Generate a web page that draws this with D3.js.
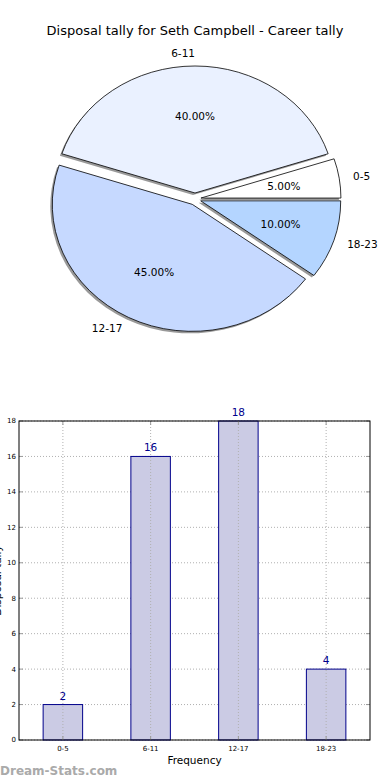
<!DOCTYPE html>
<html>
<head>
<meta charset="utf-8">
<script src="https://cdn.jsdelivr.net/npm/d3@7"></script>
<style>
  body { margin: 0; background: #fff; }
  svg { display: block; font-family: "DejaVu Sans", sans-serif; }
</style>
</head>
<body>
<svg id="chart" width="390" height="780"></svg>
<script>
// data
var categories = ["0-5", "6-11", "12-17", "18-23"];
var counts = [2, 16, 18, 4];
var sliceColors = ["#ffffff", "#eaf1ff", "#c6d9ff", "#b4d5ff"];
var yTicks = [0, 2, 4, 6, 8, 10, 12, 14, 16, 18];

var svg = d3.select("#chart");

// title
svg.append("text")
	.attr("x", 195)
	.attr("y", 35)
	.attr("text-anchor", "middle")
	.style("font-size", "13px")
	.text("Disposal tally for Seth Campbell - Career tally");

// ---- pie (elliptical, exploded, with shadow) ----
var cx = 195, cy = 199, rx = 140, ry = 127, explode = 6;
var total = d3.sum(counts);

var pie = d3.pie().sort(null)
	.startAngle(Math.PI / 2)
	.endAngle(Math.PI / 2 - 2 * Math.PI);
var arcs = pie(counts);
var arc = d3.arc().innerRadius(0).outerRadius(ry);

var pieG = svg.append("g");

function offset(d, f) {
	var mid = (d.startAngle + d.endAngle) / 2;
	return [Math.sin(mid) * f, -Math.cos(mid) * f];
}

// shadows
pieG.selectAll(".shadow")
	.data(arcs)
	.enter()
	.append("path")
	.attr("transform", function (d) {
		var o = offset(d, explode);
		return "translate(" + (cx + o[0] - 2) + "," + (cy + o[1] + 2) + ") scale(" + rx / ry + ",1)";
	})
	.attr("d", arc)
	.style("fill", "#000")
	.style("opacity", 0.4);

// wedges
pieG.selectAll(".wedge")
	.data(arcs)
	.enter()
	.append("path")
	.attr("transform", function (d) {
		var o = offset(d, explode);
		return "translate(" + (cx + o[0]) + "," + (cy + o[1]) + ") scale(" + rx / ry + ",1)";
	})
	.attr("d", arc)
	.attr("vector-effect", "non-scaling-stroke")
	.style("fill", function (d, i) { return sliceColors[i]; })
	.style("stroke", "#000")
	.style("stroke-width", 0.8);

// labels
arcs.forEach(function (d, i) {
	var mid = (d.startAngle + d.endAngle) / 2;
	var o = offset(d, explode);
	var px = cx + o[0], py = cy + o[1];
	var lx = px + Math.sin(mid) * rx * 1.1;
	var ly = py - Math.cos(mid) * ry * 1.1;
	pieG.append("text")
		.attr("x", lx)
		.attr("y", ly)
		.attr("dy", "0.35em")
		.attr("text-anchor", Math.sin(mid) > 0.001 ? "start" : "end")
		.style("font-size", "10.5px")
		.text(categories[i]);
	pieG.append("text")
		.attr("x", px + Math.sin(mid) * rx * 0.6)
		.attr("y", py - Math.cos(mid) * ry * 0.6)
		.attr("dy", "0.35em")
		.attr("text-anchor", "middle")
		.style("font-size", "10.5px")
		.text(d3.format(".2f")(counts[i] / total * 100) + "%");
});

// ---- bar chart ----
var plotLeft = 19, plotRight = 370, plotTop = 421, plotBottom = 740;
var x = d3.scaleLinear().domain([-0.5, 3.5]).range([plotLeft, plotRight]);
var y = d3.scaleLinear().domain([0, 18]).range([plotBottom, plotTop]);
var barW = 0.45;

var barG = svg.append("g");

// horizontal grid
barG.selectAll(".hgrid")
	.data(yTicks)
	.enter()
	.append("line")
	.attr("x1", plotLeft).attr("x2", plotRight)
	.attr("y1", function (d) { return y(d); })
	.attr("y2", function (d) { return y(d); })
	.style("stroke", "#b0b0b0")
	.style("stroke-dasharray", "1,2");

// bars
barG.selectAll(".bar")
	.data(counts)
	.enter()
	.append("rect")
	.attr("x", function (d, i) { return x(i - barW / 2); })
	.attr("y", function (d) { return y(d); })
	.attr("width", x(barW) - x(0))
	.attr("height", function (d) { return y(0) - y(d); })
	.style("fill", "#cbcbe4")
	.style("stroke", "#00008b")
	.style("stroke-width", 1);

// vertical grid
barG.selectAll(".vgrid")
	.data(categories)
	.enter()
	.append("line")
	.attr("x1", function (d, i) { return x(i); })
	.attr("x2", function (d, i) { return x(i); })
	.attr("y1", plotTop).attr("y2", plotBottom)
	.style("stroke", "#b0b0b0")
	.style("stroke-dasharray", "1,2");

// ticks (inside, both sides)
yTicks.forEach(function (t) {
	barG.append("line").attr("x1", plotLeft).attr("x2", plotLeft + 4).attr("y1", y(t)).attr("y2", y(t)).style("stroke", "#999");
	barG.append("line").attr("x1", plotRight - 4).attr("x2", plotRight).attr("y1", y(t)).attr("y2", y(t)).style("stroke", "#999");
	barG.append("text")
		.attr("x", plotLeft - 3)
		.attr("y", y(t))
		.attr("dy", "0.35em")
		.attr("text-anchor", "end")
		.style("font-size", "7px")
		.text(t);
});
categories.forEach(function (c, i) {
	barG.append("line").attr("x1", x(i)).attr("x2", x(i)).attr("y1", plotBottom).attr("y2", plotBottom - 4).style("stroke", "#999");
	barG.append("line").attr("x1", x(i)).attr("x2", x(i)).attr("y1", plotTop).attr("y2", plotTop + 4).style("stroke", "#999");
	barG.append("text")
		.attr("x", x(i))
		.attr("y", plotBottom + 11)
		.attr("text-anchor", "middle")
		.style("font-size", "7px")
		.text(c);
});

// frame
barG.append("rect")
	.attr("x", plotLeft).attr("y", plotTop)
	.attr("width", plotRight - plotLeft).attr("height", plotBottom - plotTop)
	.style("fill", "none")
	.style("stroke", "#000")
	.style("stroke-width", 1);

// value labels
barG.selectAll(".val")
	.data(counts)
	.enter()
	.append("text")
	.attr("x", function (d, i) { return x(i); })
	.attr("y", function (d) { return y(d) - 5; })
	.attr("text-anchor", "middle")
	.style("font-size", "10.5px")
	.style("fill", "#00008b")
	.text(function (d) { return d; });

// axis labels
svg.append("text")
	.attr("x", (plotLeft + plotRight) / 2)
	.attr("y", 764)
	.attr("text-anchor", "middle")
	.style("font-size", "10.5px")
	.text("Frequency");

svg.append("text")
	.attr("transform", "translate(0.5," + (plotBottom + plotTop) / 2 + ") rotate(-90)")
	.attr("text-anchor", "middle")
	.style("font-size", "10.5px")
	.text("Disposal tally");

// watermark
svg.append("text")
	.attr("x", 0)
	.attr("y", 775)
	.style("font-size", "12px")
	.style("font-weight", "bold")
	.style("fill", "#aaaaaa")
	.text("Dream-Stats.com");
</script>
</body>
</html>
